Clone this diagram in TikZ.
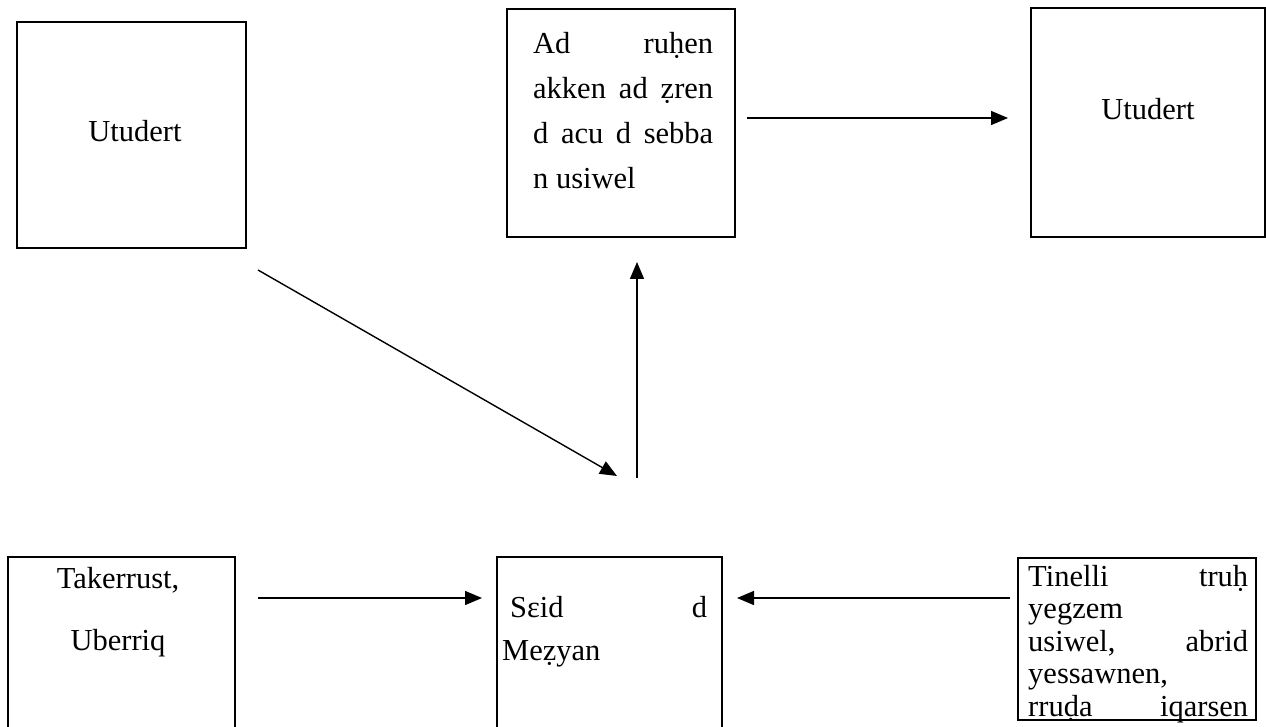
\documentclass[tikz,border=0pt]{standalone}
\usepackage{fontspec}
\setmainfont{Liberation Serif}
\usetikzlibrary{arrows.meta}
\begin{document}
\begin{tikzpicture}[x=1pt,y=-1pt,
  box/.style={draw=black,line width=1.5pt,inner sep=0pt},
  txt/.style={inner sep=0pt,align=left,font=\fontsize{30.5}{45}\selectfont},
  arr/.style={line width=1.4pt,-{Triangle[length=17pt,width=14pt]}}]
\useasboundingbox (0,0) rectangle (1266,727);
\fill[white] (0,0) rectangle (1266,727);
% boxes
\node[box,minimum width=229pt,minimum height=226pt] (tl) at (131.5,135) {};
\node[box,minimum width=228pt,minimum height=228pt] (tm) at (621,123) {};
\node[box,minimum width=234pt,minimum height=229pt] (tr) at (1148,122.5) {};
\node[box,minimum width=227pt,minimum height=203pt] (bl) at (121.5,658.5) {};
\node[box,minimum width=225pt,minimum height=203pt] (bm) at (609.5,658.5) {};
\node[box,minimum width=238pt,minimum height=162pt] (br) at (1137,639) {};
% texts
\node[txt] (tltext) at (135,131) {Utudert};
\node[txt] (trtext) at (1148,109) {Utudert};
\node[txt,anchor=north west] (tmtext) at (533,32) {\makebox[180pt][s]{Ad ruḥen}\\
\makebox[180pt][s]{akken ad ẓren}\\
\makebox[180pt][s]{d acu d sebba}\\
n usiwel};
\node[txt,align=center,font=\fontsize{30.5}{62}\selectfont] (bltext) at (118,612) {Takerrust,\\ Uberriq};
\node[txt,anchor=north west,font=\fontsize{30.5}{43}\selectfont] (bmtext) at (502,596) {\hspace*{8pt}\makebox[197pt][s]{Sεid d}\\
Meẓyan};
\node[txt,anchor=north west,font=\fontsize{30.5}{32.5}\selectfont] (brtext) at (1028,565) {\makebox[220pt][s]{Tinelli truḥ}\\
yegzem\\
\makebox[220pt][s]{usiwel, abrid}\\
yessawnen,\\
\makebox[220pt][s]{rruḍa iqarsen}};
% connectors
\coordinate (a1s) at (747,118);
\coordinate (a1e) at (1008,118);
\draw[arr] (a1s) -- (a1e);
\coordinate (a2s) at (258,270);
\coordinate (a2e) at (617,476);
\draw[arr] (a2s) -- (a2e);
\coordinate (a3s) at (637,478);
\coordinate (a3e) at (637,262);
\draw[arr] (a3s) -- (a3e);
\coordinate (a4s) at (258,598);
\coordinate (a4e) at (482,598);
\draw[arr] (a4s) -- (a4e);
\coordinate (a5s) at (1010,598);
\coordinate (a5e) at (737,598);
\draw[arr] (a5s) -- (a5e);
\end{tikzpicture}
\end{document}
